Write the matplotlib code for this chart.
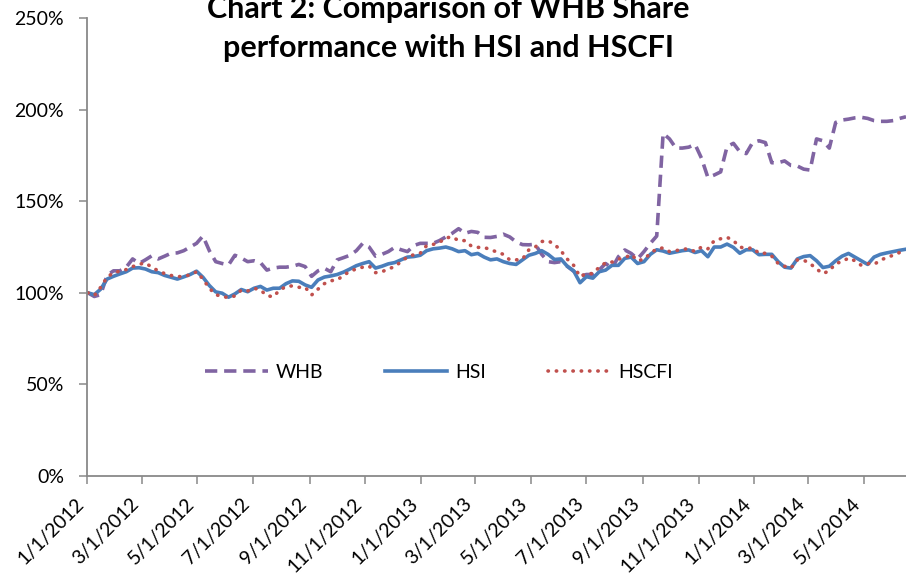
import matplotlib
matplotlib.use("Agg")
import matplotlib.pyplot as plt
import matplotlib.dates as mdates
from matplotlib.ticker import PercentFormatter, MultipleLocator
import pandas as pd

plt.rcParams['font.family'] = ['Lato', 'DejaVu Sans']

# weekly observations, values in % of 1/1/2012 level
dates = pd.date_range('2012-01-02', periods=129, freq='7D')

whb = [100, 98, 99, 109.5, 112, 112, 114, 118.5, 116, 118,
       120.2, 118.5, 120, 121.6, 121.8, 123, 125, 127, 131, 123,
       117, 116, 115.2, 120.5, 119, 117, 117.5, 116.5, 112.4, 113.5,
       114, 114, 114.5, 115.5, 114.3, 109, 112, 113.4, 111.5, 118,
       119.2, 120.5, 123, 127, 125, 120, 121, 122.5, 124.8, 123.5,
       122.5, 125.8, 127, 127, 127, 128.5, 130.5, 132.5, 135, 132.5,
       133.5, 133, 130.3, 130.2, 130.8, 132, 130.5, 127.8, 126.3, 126.2,
       126.5, 121, 117, 116.5, 117, 114.5, 111.8, 109, 110, 110,
       112.5, 116, 113.4, 119.7, 123.4, 121.5, 118.5, 122.5, 127, 131,
       187, 184, 179, 179, 179.5, 181, 173.5, 163, 164.3, 166,
       179.8, 181.6, 177, 176, 182, 183, 182, 171, 171, 172,
       169.5, 169.2, 167.5, 167, 184, 183, 179, 193, 194.3, 194.8,
       195.5, 195.8, 195.2, 194, 193.6, 193.6, 194, 195.2, 196.1]

hsi = [100, 99, 102, 107.5, 109, 110.3, 111.5, 113.5, 113.7, 113,
       111.5, 111, 109.5, 108.5, 107.5, 108.7, 110, 111.8, 108.5, 104,
       100.5, 99.8, 97.6, 99.4, 101.8, 100.6, 102.5, 103.5, 101.5, 102.5,
       102.5, 105, 106.5, 106.3, 104.3, 103, 107, 108.6, 109.2, 110,
       111.3, 113, 114.8, 116, 117, 113.5, 114.5, 115.8, 116.5, 118,
       119.5, 119.8, 120.5, 123, 124, 124.4, 125, 124, 122.5, 123,
       120.8, 121.5, 119.5, 118, 118.5, 117, 116, 115.5, 118, 120.5,
       121.5, 123, 121, 118.2, 118.5, 114.5, 112, 105.5, 108.8, 108,
       111.5, 112.4, 115, 115, 118.8, 119.5, 116, 117, 121, 123.5,
       122.8, 121.6, 122.3, 123, 123.4, 122, 123, 119.7, 125, 125,
       126.6, 124.8, 121.6, 123.5, 123.5, 120.8, 121, 121, 117, 114,
       113.5, 118.5, 119.8, 120.3, 117.5, 113.8, 114.5, 117.5, 120, 121.5,
       119.5, 117.5, 115.5, 119.5, 121, 121.8, 122.5, 123.2, 123.8]

hscfi = [100, 98.5, 103, 108.5, 111, 111.8, 112.7, 114.3, 115.6, 116.3,
         114, 112, 110.5, 109.5, 108.8, 109, 109.8, 111.5, 107.5, 102.5,
         99, 98, 97.4, 98.3, 101.5, 101, 102.5, 101.5, 98.5, 97.8,
         101.5, 103.4, 103.8, 103, 103, 98.8, 102, 105, 106.6, 107,
         109.5, 111.8, 113, 114, 114.6, 111, 111.5, 113, 114.3, 117,
         119.6, 120.8, 121.6, 125.8, 126.4, 127.5, 130, 130.5, 128.5, 128.5,
         125.5, 124.8, 124.8, 123.5, 122.3, 121, 118, 118, 118.4, 123.5,
         125, 128, 128.4, 126.5, 123, 118.4, 115, 108.8, 110.5, 110.5,
         114, 116.4, 116.8, 118.4, 119, 121, 117.5, 118.3, 121.5, 124,
         124.5, 122.5, 123, 123.8, 124, 122.5, 125, 124, 128.5, 129.5,
         130.3, 128.5, 125, 124.2, 124.5, 121.6, 121.6, 120, 116, 114.5,
         113.5, 118, 117.8, 116, 113, 110.5, 112, 116, 117, 119,
         117.5, 115, 116, 115.5, 117.8, 119.3, 120.5, 122, 123]

fig = plt.figure(figsize=(9.06, 5.83), dpi=100)
ax = fig.add_axes([0.096, 0.1835, 0.904, 0.7856])

ax.plot(dates, whb, color='#8064A2', lw=2.6, linestyle=(0, (3.4, 1.9)), label='WHB')
ax.plot(dates, hsi, color='#4A7EBB', lw=2.6, label='HSI')
ax.plot(dates, hscfi, color='#C0504D', lw=2.6, linestyle=(0, (0.1, 2.2)),
        dash_capstyle='round', label='HSCFI')

ax.set_ylim(0, 250)
ax.yaxis.set_major_locator(MultipleLocator(50))
ax.yaxis.set_major_formatter(PercentFormatter(xmax=100, decimals=0))
ax.set_xlim(pd.Timestamp('2012-01-01'), pd.Timestamp('2014-06-16'))
ax.xaxis.set_major_locator(mdates.MonthLocator(bymonth=[1, 3, 5, 7, 9, 11]))
ax.xaxis.set_major_formatter(mdates.DateFormatter('%-m/%-d/%Y'))

for s in ['top', 'right']:
    ax.spines[s].set_visible(False)
for s in ['left', 'bottom']:
    ax.spines[s].set_color('#898989')
    ax.spines[s].set_linewidth(1.3)
ax.tick_params(axis='both', colors='#898989', labelcolor='black', width=1.1,
               length=5.5, labelsize=14, direction='out')
ax.tick_params(axis='y', pad=11)
ax.tick_params(axis='x', pad=8)
for lbl in ax.get_xticklabels():
    lbl.set_rotation(45)
    lbl.set_ha('right')

ax.legend(loc='center', bbox_to_anchor=(0.43, 0.227), ncol=3, frameon=False,
          fontsize=14, handlelength=3.2, handletextpad=0.4, columnspacing=3.2)

# title is partly cut at the top edge, as in the source chart
fig.text(0.495, 0.985, 'Chart 2: Comparison of WHB Share', ha='center', va='center',
         fontsize=22, fontweight='bold')
fig.text(0.495, 0.918, 'performance with HSI and HSCFI', ha='center', va='center',
         fontsize=22, fontweight='bold')

fig.savefig('out.png', dpi=100)
